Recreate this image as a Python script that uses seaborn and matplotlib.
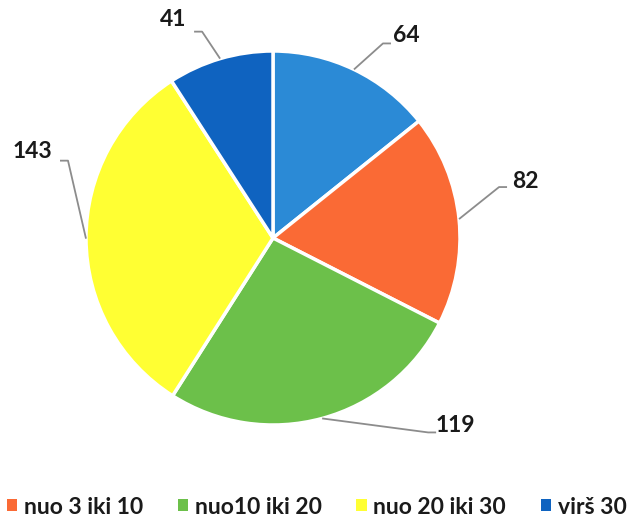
import numpy as np
import matplotlib
matplotlib.use("Agg")
import matplotlib.pyplot as plt
import seaborn as sns
from matplotlib.patches import Patch

sns.set_theme(style="white")
plt.rcParams['font.family'] = ['Lato', 'DejaVu Sans']

# data (clockwise from 12 o'clock)
values = [64, 82, 119, 143, 41]
colors = ['#2B8AD6', '#FA6A35', '#6CC04A', '#FFFF33', '#0F63C0']
legend_labels = ['nuo 3 iki 10', 'nuo10 iki 20', 'nuo 20 iki 30', 'virš 30']
legend_colors = ['#FA6A35', '#6CC04A', '#FFFF33', '#0F63C0']

# label placement (pixel offsets from wedge edge: elbow, text)
label_style = [
    ((29, 26), (52, 34)),
    ((40, 32), (66, 38)),
    ((106, -14), (133, -7)),
    ((-18, 78), (-54, 87)),
    ((-18, 27), (-47, 39)),
]

W, H = 636, 520
cx, cy, r = 273, H - 238, 187

fig = plt.figure(figsize=(W / 100, H / 100), dpi=100)
ax = fig.add_axes([0, 0, 1, 1])

wedges, _ = ax.pie(values, colors=colors, startangle=90, counterclock=False,
                   center=(cx, cy), radius=r,
                   wedgeprops=dict(edgecolor='white', linewidth=2.5))
ax.set_xlim(0, W)
ax.set_ylim(0, H)
ax.set_aspect('equal')
ax.axis('off')

for w, v, (elb, txt) in zip(wedges, values, label_style):
    ang = np.deg2rad((w.theta1 + w.theta2) / 2)
    x0, y0 = cx + r * np.cos(ang), cy + r * np.sin(ang)
    ex, ey = x0 + elb[0], y0 + elb[1]
    hx = ex + (8 if txt[0] > elb[0] else -8)
    ax.plot([x0, ex, hx], [y0, ey, ey], color='#8c8c8c', lw=1.3,
            solid_capstyle='butt')
    ax.text(x0 + txt[0], y0 + txt[1], str(v), ha='center', va='center',
            fontsize=16.5, fontweight='bold', color='#1a1a1a')

handles = [Patch(facecolor=c, edgecolor='none') for c in legend_colors]
fig.legend(handles, legend_labels, loc='center left', bbox_to_anchor=(0.0, 0.025),
           ncol=4, frameon=False, handlelength=0.45, handleheight=0.45,
           handletextpad=0.3, columnspacing=1.5, borderpad=0, borderaxespad=0.3,
           prop=dict(size=16.5, weight='bold'), labelcolor='#1a1a1a')

fig.savefig('out.png', dpi=100)
